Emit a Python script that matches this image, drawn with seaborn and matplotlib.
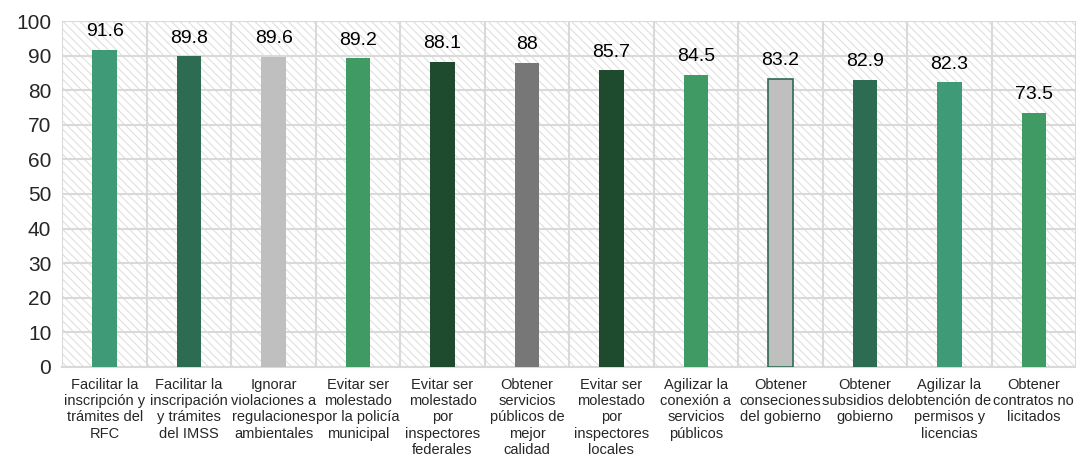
import numpy as np
import pandas as pd
import matplotlib
matplotlib.use("Agg")
import matplotlib.pyplot as plt
from matplotlib.patches import Rectangle
import seaborn as sns

categorias = [
    "Facilitar la\ninscripción y\ntrámites del\nRFC",
    "Facilitar la\ninscripación\ny trámites\ndel IMSS",
    "Ignorar\nviolaciones a\nregulaciones\nambientales",
    "Evitar ser\nmolestado\npor la policía\nmunicipal",
    "Evitar ser\nmolestado\npor\ninspectores\nfederales",
    "Obtener\nservicios\npúblicos de\nmejor\ncalidad",
    "Evitar ser\nmolestado\npor\ninspectores\nlocales",
    "Agilizar la\nconexión a\nservicios\npúblicos",
    "Obtener\nconseciones\ndel gobierno",
    "Obtener\nsubsidios del\ngobierno",
    "Agilizar la\nobtención de\npermisos y\nlicencias",
    "Obtener\ncontratos no\nlicitados",
]
valores = [91.6, 89.8, 89.6, 89.2, 88.1, 88.0, 85.7, 84.5, 83.2, 82.9, 82.3, 73.5]
etiquetas = ["91.6", "89.8", "89.6", "89.2", "88.1", "88", "85.7", "84.5", "83.2", "82.9", "82.3", "73.5"]
colores = ["#3F9A78", "#2D6B52", "#BFBFBF", "#3F9B63", "#1E4A2E", "#777777",
           "#1E4A2E", "#3F9B63", "#BFBFBF", "#2D6B52", "#3F9A78", "#3F9B63"]

sns.set_style("white")
plt.rcParams["font.family"] = ["Liberation Sans", "DejaVu Sans"]
plt.rcParams["hatch.linewidth"] = 0.7

df = pd.DataFrame({"cat": categorias, "val": valores})

fig = plt.figure(figsize=(10.76, 4.57), dpi=100)
ax = fig.add_axes([0.058, 0.197, 0.942, 0.757])

# fondo rayado
fondo = Rectangle((0, 0), 1, 1, transform=ax.transAxes, facecolor="white",
                  edgecolor="#DCDCDC", linewidth=0, hatch="\\\\\\\\", zorder=0)
ax.add_patch(fondo)

sns.barplot(data=df, x="cat", y="val", hue="cat", palette=colores, width=0.29,
            dodge=False, legend=False, ax=ax, zorder=3, saturation=1)

barras = [p for p in ax.patches if p is not fondo]
for bar in barras:
    bar.set_linewidth(0)
barras[8].set_edgecolor("#2D6B52")
barras[8].set_linewidth(1.2)

for i, cont in enumerate(ax.containers):
    ax.bar_label(cont, labels=[etiquetas[i]], padding=7, fontsize=14, color="black")

ax.set_ylim(0, 100)
ax.set_yticks(range(0, 101, 10))
ax.set_xlim(-0.5, len(categorias) - 0.5)
ax.set_xticks(np.arange(-0.5, len(categorias), 1), minor=True)
ax.grid(False)
ax.yaxis.grid(True, color="#D9D9D9", linewidth=1.5)
ax.xaxis.grid(True, which="minor", color="#D9D9D9", linewidth=1.5)
ax.set_axisbelow(True)
ax.tick_params(axis="y", length=0, labelsize=15, pad=8)
ax.tick_params(axis="x", which="both", length=0, labelsize=10.5, pad=8)
ax.set_xlabel("")
ax.set_ylabel("")
for s in ["top", "right", "left"]:
    ax.spines[s].set_visible(False)
ax.spines["bottom"].set_color("#D9D9D9")
ax.spines["bottom"].set_linewidth(1.5)

fig.savefig("out.png", dpi=100)
